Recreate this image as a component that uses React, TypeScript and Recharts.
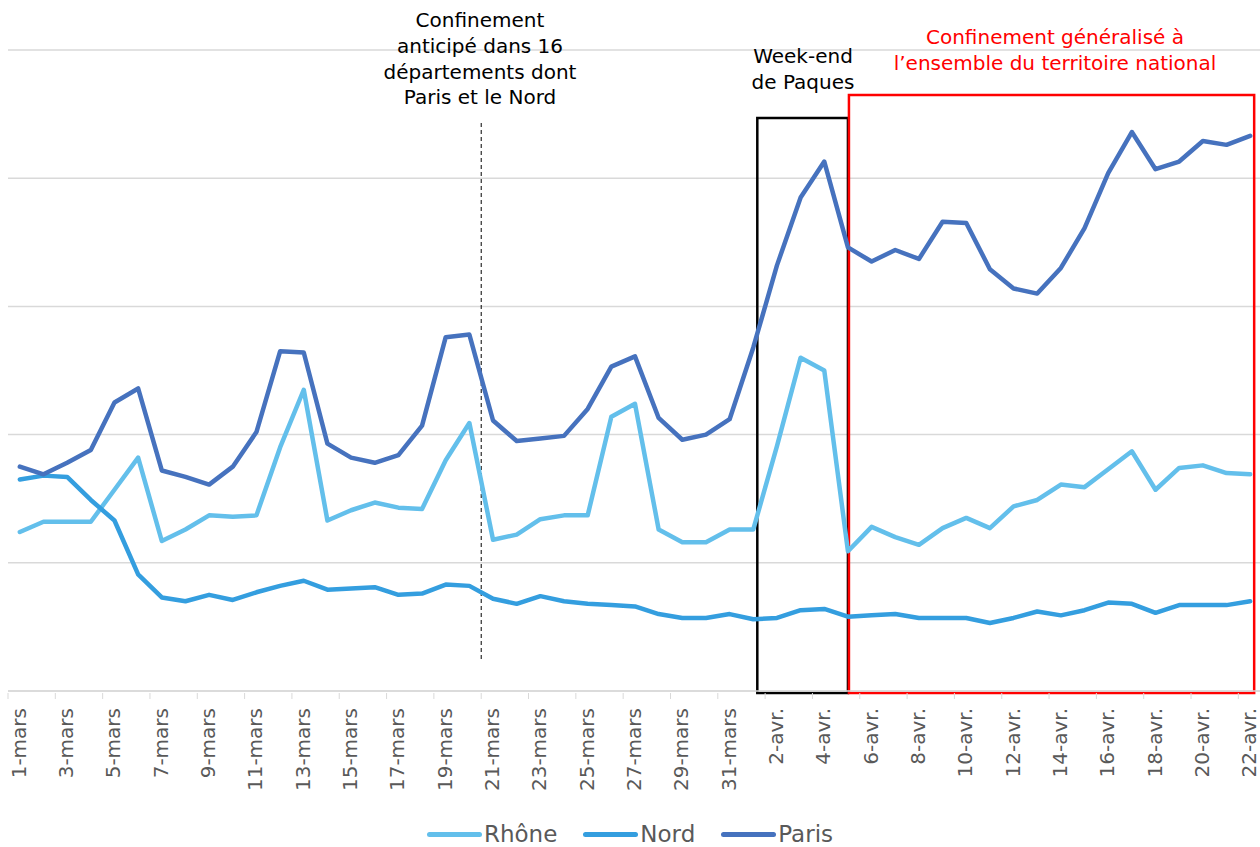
import React from 'react';
import { LineChart, Line, XAxis, YAxis, CartesianGrid, Customized } from 'recharts';

// Dates: 1 mars -> 22 avril
const marchDays = Array.from({ length: 31 }, (_, i) => `${i + 1}-mars`);
const aprilDays = Array.from({ length: 22 }, (_, i) => `${i + 1}-avr.`);
const dates = [...marchDays, ...aprilDays];

const rhone = [
  12.4, 13.2, 13.2, 13.2, 15.7, 18.2, 11.7, 12.6, 13.7, 13.6, 13.7, 19.0, 23.5, 13.3, 14.1, 14.7, 14.3, 14.2, 18.0, 20.9,
  11.8, 12.2, 13.4, 13.7, 13.7, 21.4, 22.4, 12.6, 11.6, 11.6, 12.6, 12.6, 19.1, 26.0, 25.0, 10.9, 12.8, 12.0, 11.4, 12.7,
  13.5, 12.7, 14.4, 14.9, 16.1, 15.9, 17.3, 18.7, 15.7, 17.4, 17.6, 17.0, 16.9,
];
const nord = [
  16.5, 16.8, 16.7, 14.9, 13.3, 9.1, 7.3, 7.0, 7.5, 7.1, 7.7, 8.2, 8.6, 7.9, 8.0, 8.1, 7.5, 7.6, 8.3, 8.2,
  7.2, 6.8, 7.4, 7.0, 6.8, 6.7, 6.6, 6.0, 5.7, 5.7, 6.0, 5.6, 5.7, 6.3, 6.4, 5.8, 5.9, 6.0, 5.7, 5.7,
  5.7, 5.3, 5.7, 6.2, 5.9, 6.3, 6.9, 6.8, 6.1, 6.7, 6.7, 6.7, 7.0,
];
const paris = [
  17.5, 16.9, 17.8, 18.8, 22.5, 23.6, 17.2, 16.7, 16.1, 17.5, 20.2, 26.5, 26.4, 19.3, 18.2, 17.8, 18.4, 20.7, 27.6, 27.8,
  21.1, 19.5, 19.7, 19.9, 22.0, 25.3, 26.1, 21.3, 19.6, 20.0, 21.2, 26.8, 33.2, 38.5, 41.3, 34.6, 33.5, 34.4, 33.7, 36.6,
  36.5, 32.9, 31.4, 31.0, 33.0, 36.1, 40.4, 43.6, 40.7, 41.3, 42.9, 42.6, 43.3,
];

const yTicks = [0, 10, 20, 30, 40, 50];

const series = [
  { key: 'Rhône', color: '#63BFEB', values: rhone },
  { key: 'Nord', color: '#349EDF', values: nord },
  { key: 'Paris', color: '#4672BE', values: paris },
];

const data = dates.map((d, i) => ({
  date: d,
  'Rhône': rhone[i],
  Nord: nord[i],
  Paris: paris[i],
}));

const W = 1260;
const H = 847;
const MARGIN = { top: 50, right: -2, bottom: 30, left: 8 };
const PLOT_W = W - MARGIN.left - MARGIN.right;
const BAND = PLOT_W / dates.length;
const xAt = (i: number) => MARGIN.left + (i + 0.5) * BAND;
const FONT = "'Century Gothic', 'DejaVu Sans', sans-serif";

const DateTick = ({ x, y, payload }: any) => (
  <g>
    <line x1={x - BAND / 2} x2={x - BAND / 2} y1={y - 6} y2={y} stroke="#d9d9d9" strokeWidth={1} />
    <text
      x={0}
      y={0}
      transform={`translate(${x + 6},${y + 9}) rotate(-90)`}
      textAnchor="end"
      fill="#595959"
      fontSize={20}
      fontFamily={FONT}
    >
      {payload.value}
    </text>
  </g>
);

const Annotations = () => (
  <g fontFamily={FONT}>
    <line x1={xAt(19.5)} x2={xAt(19.5)} y1={123} y2={660} stroke="#000" strokeWidth={1} strokeDasharray="4 3" />
    <rect x={xAt(31) + 4} y={118} width={xAt(35) - xAt(31) - 4} height={575} fill="none" stroke="#000" strokeWidth={2.5} />
    <rect x={xAt(35) + 1} y={95} width={xAt(52) + 4 - xAt(35) - 1} height={598} fill="none" stroke="#ff0000" strokeWidth={2.5} />
    <text textAnchor="middle" fontSize={20} fill="#000">
      <tspan x={480} y={27}>Confinement</tspan>
      <tspan x={480} y={53}>anticipé dans 16</tspan>
      <tspan x={480} y={79}>départements dont</tspan>
      <tspan x={480} y={104}>Paris et le Nord</tspan>
    </text>
    <text textAnchor="middle" fontSize={20} fill="#000">
      <tspan x={803} y={63}>Week-end</tspan>
      <tspan x={803} y={89}>de Paques</tspan>
    </text>
    <text textAnchor="middle" fontSize={20} fill="#ff0000">
      <tspan x={1055} y={44}>Confinement généralisé à</tspan>
      <tspan x={1055} y={70}>l’ensemble du territoire national</tspan>
    </text>
  </g>
);

export default function App() {
  return (
    <div style={{ position: 'absolute', left: 0, top: 0, width: W, height: H, background: '#fff' }}>
      <LineChart width={W} height={H} data={data} margin={MARGIN}>
        <CartesianGrid vertical={false} stroke="#d9d9d9" strokeWidth={1.5} />
        <XAxis
          dataKey="date"
          interval={1}
          padding={{ left: BAND / 2, right: BAND / 2 }}
          height={H - MARGIN.top - MARGIN.bottom - 641}
          axisLine={{ stroke: '#d9d9d9', strokeWidth: 1.5 }}
          tickLine={false}
          tickSize={6}
          tick={<DateTick />}
        />
        <YAxis hide domain={[0, 50]} ticks={yTicks} />
        {series.map((s) => (
          <Line
            key={s.key}
            dataKey={s.key}
            stroke={s.color}
            strokeWidth={4.5}
            strokeLinejoin="round"
            strokeLinecap="round"
            dot={false}
            type="linear"
            isAnimationActive={false}
          />
        ))}
        <Customized component={Annotations} />
      </LineChart>
      <div
        style={{
          position: 'absolute',
          top: 821,
          left: 0,
          width: W,
          display: 'flex',
          justifyContent: 'center',
          gap: 26,
          fontFamily: FONT,
          fontSize: 23,
          color: '#595959',
        }}
      >
        {series.map((s) => (
          <div key={s.key} style={{ display: 'flex', alignItems: 'center' }}>
            <span style={{ width: 55, height: 5, borderRadius: 3, background: s.color, marginRight: 2 }} />
            <span>{s.key}</span>
          </div>
        ))}
      </div>
    </div>
  );
}
